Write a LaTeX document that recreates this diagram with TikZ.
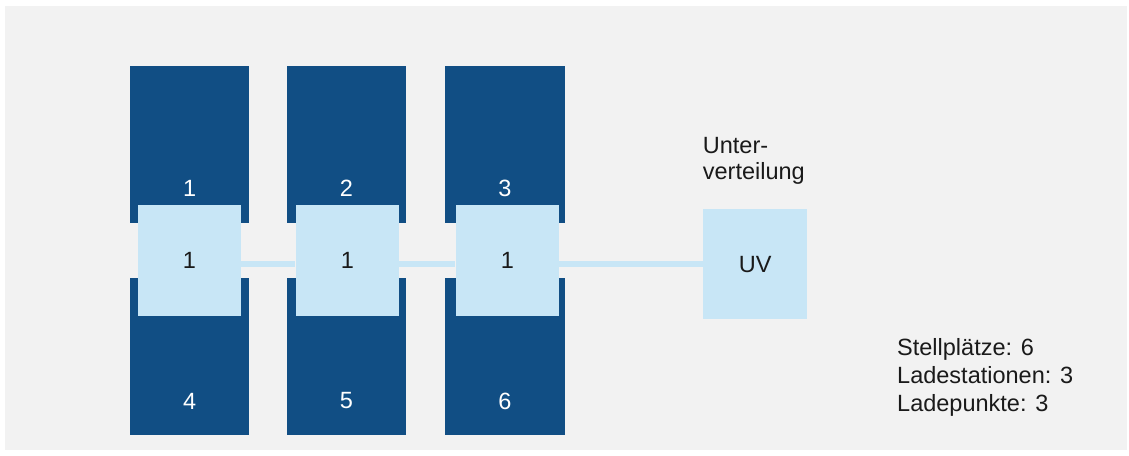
\documentclass[tikz,border=0pt]{standalone}
\usepackage{fontspec}
\setmainfont{Liberation Sans}
\definecolor{navy}{HTML}{114E84}
\definecolor{pale}{HTML}{C8E6F6}
\definecolor{canvas}{HTML}{F2F2F2}
\definecolor{ink}{HTML}{1A1A1A}
\tikzset{
  stall/.style={fill=navy, draw=none, inner sep=0pt,
    minimum width=119.5pt, minimum height=157pt},
  stallno/.style={text=white, inner sep=0pt, font=\fontsize{23.5}{28}\selectfont},
  charger/.style={fill=pale, draw=none, inner sep=0pt, text=ink,
    minimum width=103.3pt, minimum height=110.7pt, font=\fontsize{23.5}{28}\selectfont},
  cable/.style={draw=pale, line width=6pt},
  caption/.style={text=ink, inner sep=0pt, anchor=base west, align=left},
}
\begin{document}
\begin{tikzpicture}[x=1pt, y=-1pt]
  \useasboundingbox (0,0) rectangle (1129,455);
  \fill[white] (0,0) rectangle (1129,455);
  \fill[canvas] (5,6) rectangle (1127,450);

  % parking bays, upper row
  \node[stall] (s1) at (189.7,144.4) {};
  \node[stall] (s2) at (346.3,144.4) {};
  \node[stall] (s3) at (504.8,144.4) {};
  % parking bays, lower row
  \node[stall] (s4) at (189.7,356.5) {};
  \node[stall] (s5) at (346.3,356.5) {};
  \node[stall] (s6) at (504.8,356.5) {};

  \node[stallno] (n1) at (189.7,188) {1};
  \node[stallno] (n2) at (346.3,188) {2};
  \node[stallno] (n3) at (504.8,188) {3};
  \node[stallno] (n4) at (189.7,401) {4};
  \node[stallno] (n5) at (346.3,401) {5};
  \node[stallno] (n6) at (504.8,401) {6};

  % charging stations and distribution board
  \node[charger] (c1) at (189.3,260.3) {1};
  \node[charger] (c2) at (347.3,260.3) {1};
  \node[charger] (c3) at (507.3,260.3) {1};
  \node[charger, minimum width=103.5pt, minimum height=109.7pt] (uv) at (755.2,264.2) {UV};

  % supply line
  \coordinate (y0) at (0,263.5);
  \draw[cable] (c1.east |- y0) -- (c2.west |- y0);
  \draw[cable] (c2.east |- y0) -- (c3.west |- y0);
  \draw[cable] (c3.east |- y0) -- (uv.west |- y0);

  % captions (anchored at the baseline of their last line)
  \node[caption, font=\fontsize{23.5}{26}\selectfont] (uvlabel) at (702.7,179.3) {Unter-\\verteilung};
  \node[caption, font=\fontsize{23.5}{28.3}\selectfont] (stats) at (897,411.7) {Stellplätze: 6\\Ladestationen: 3\\Ladepunkte: 3};
\end{tikzpicture}
\end{document}
